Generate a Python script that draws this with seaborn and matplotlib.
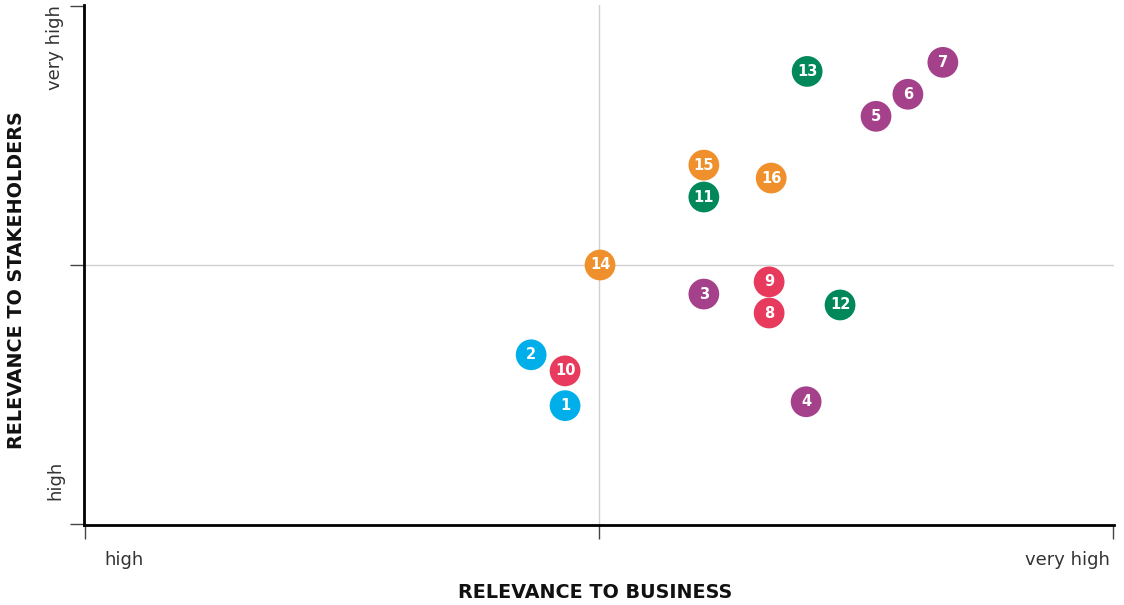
import matplotlib
matplotlib.use("Agg")
import matplotlib.pyplot as plt
import seaborn as sns
import pandas as pd

# Data
ids = [1, 2, 3, 4, 5, 6, 7, 8, 9, 10, 11, 12, 13, 14, 15, 16]
business = [0.934, 0.868, 1.204, 1.403, 1.539, 1.601, 1.669, 1.331, 1.331, 0.934,
            1.204, 1.469, 1.405, 1.002, 1.204, 1.335]
stakeholders = [0.458, 0.654, 0.888, 0.473, 1.573, 1.658, 1.781, 0.815, 0.935, 0.592,
                1.262, 0.846, 1.746, 1.000, 1.385, 1.335]
groups = ["cyan", "cyan", "purple", "purple", "purple", "purple", "purple", "red", "red", "red",
          "green", "green", "green", "orange", "orange", "orange"]
palette = {"cyan": "#00AEEA", "purple": "#A5418B", "red": "#E83A5C",
           "green": "#00875A", "orange": "#F0902C"}

df = pd.DataFrame({"id": ids, "x": business, "y": stakeholders, "g": groups})

sns.set_theme(style="white")
plt.rcParams['font.family'] = ['DejaVu Sans']

fig = plt.figure(figsize=(11.24, 6.05), dpi=100)
ax = fig.add_axes([84/1124, 1 - 525/605, (1114 - 84)/1124, (525 - 5)/605])

ax.axvline(1, color="#d0d0d0", lw=1, zorder=0)
ax.axhline(1, color="#d0d0d0", lw=1, zorder=0)

sns.scatterplot(data=df, x="x", y="y", hue="g", palette=palette, s=490,
                edgecolor="none", legend=False, ax=ax, zorder=3)
for _, r in df.iterrows():
    ax.text(r["x"], r["y"], str(r["id"]), color="white", fontsize=10.5,
            fontweight="bold", ha="center", va="center", zorder=4)

ax.set_xlim(-0.002, 2.002)
ax.set_ylim(-0.002, 2.002)
for s in ["top", "right"]:
    ax.spines[s].set_visible(False)
for s in ["left", "bottom"]:
    ax.spines[s].set_color("black")
    ax.spines[s].set_linewidth(2)

ax.set_xticks([0, 1, 2])
ax.set_yticks([0, 1, 2])
ax.set_xticklabels([])
ax.set_yticklabels([])
ax.tick_params(axis="both", which="both", length=10, width=1, color="#444444",
               direction="out", bottom=True, left=True)

ax.set_xlabel("")
ax.set_ylabel("")

# Tick-level descriptors
lab_kw = dict(transform=fig.transFigure, fontsize=13, color="#333333")
ax.text(104 / 1124, 1 - 560 / 605, "high", ha="left", va="center", **lab_kw)
ax.text(1110 / 1124, 1 - 560 / 605, "very high", ha="right", va="center", **lab_kw)
ax.text(55 / 1124, 1 - 5 / 605, "very high", ha="center", va="top", rotation=90, **lab_kw)
ax.text(55 / 1124, 1 - 500 / 605, "high", ha="center", va="bottom", rotation=90, **lab_kw)

# Axis titles
fig.text(595 / 1124, 1 - 592 / 605, "RELEVANCE TO BUSINESS", fontsize=13.8,
         fontweight="bold", color="#111111", ha="center", va="center")
fig.text(17 / 1124, 1 - 280 / 605, "RELEVANCE TO STAKEHOLDERS", fontsize=13.8,
         fontweight="bold", color="#111111", ha="center", va="center", rotation=90)

fig.savefig("out.png", dpi=100)
